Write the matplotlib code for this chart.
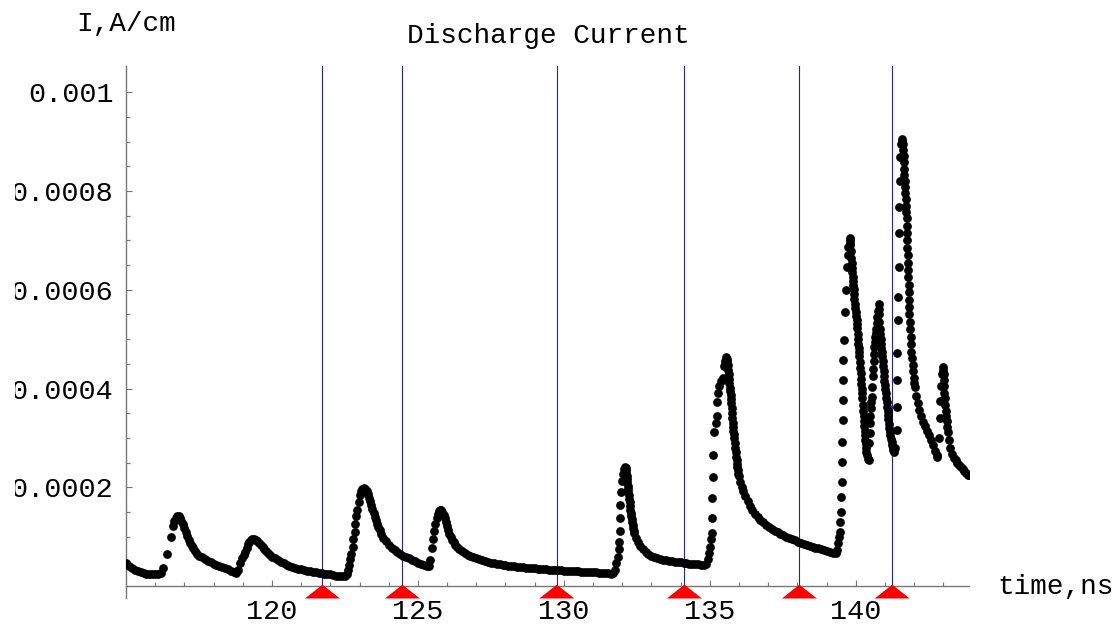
import numpy as np
import matplotlib
matplotlib.use("Agg")
import matplotlib.pyplot as plt
from matplotlib.patches import Polygon, Rectangle

# discharge current samples, (time in ns, current in 1e-4 A/cm)
trace_115_125 = [
    (115.0, 0.46), (115.1, 0.41), (115.2, 0.37), (115.3, 0.33), (115.4, 0.30),
    (115.5, 0.28), (115.6, 0.26), (115.7, 0.25), (115.8, 0.25), (115.9, 0.24),
    (116.0, 0.24), (116.1, 0.24), (116.2, 0.26),
    (116.26, 0.36), (116.40, 0.65), (116.55, 1.00),
    (116.62, 1.22), (116.66, 1.32), (116.70, 1.38), (116.75, 1.41), (116.80, 1.41),
    (116.85, 1.37), (116.90, 1.32), (116.95, 1.25), (117.00, 1.17), (117.05, 1.09),
    (117.10, 1.01), (117.15, 0.94), (117.20, 0.88), (117.25, 0.82), (117.30, 0.77),
    (117.37, 0.71), (117.43, 0.66), (117.50, 0.62), (117.60, 0.58), (117.70, 0.54),
    (117.80, 0.51), (117.90, 0.48), (118.00, 0.45), (118.10, 0.42), (118.20, 0.40),
    (118.30, 0.38), (118.40, 0.36), (118.50, 0.34), (118.60, 0.31), (118.70, 0.28),
    (118.78, 0.27),
    (118.84, 0.33), (118.91, 0.46), (118.98, 0.56), (119.04, 0.64), (119.09, 0.70),
    (119.13, 0.78), (119.17, 0.85), (119.22, 0.90), (119.27, 0.93), (119.32, 0.95),
    (119.38, 0.95), (119.44, 0.94), (119.50, 0.91), (119.56, 0.87), (119.62, 0.83),
    (119.68, 0.79), (119.74, 0.75), (119.80, 0.71), (119.87, 0.67), (119.94, 0.63),
    (120.00, 0.60), (120.10, 0.56), (120.20, 0.52), (120.30, 0.49), (120.40, 0.46),
    (120.50, 0.43), (120.60, 0.41), (120.70, 0.39), (120.80, 0.37), (120.90, 0.35),
    (121.00, 0.34), (121.10, 0.33), (121.20, 0.31), (121.30, 0.30), (121.40, 0.29),
    (121.50, 0.28), (121.60, 0.27), (121.70, 0.26), (121.80, 0.25), (121.90, 0.25),
    (122.00, 0.24), (122.10, 0.22), (122.20, 0.21), (122.30, 0.21), (122.40, 0.21),
    (122.50, 0.21), (122.56, 0.24),
    (122.60, 0.33), (122.63, 0.43), (122.68, 0.55), (122.72, 0.66), (122.76, 0.80),
    (122.79, 0.95), (122.83, 1.10), (122.86, 1.25), (122.89, 1.41), (122.93, 1.54),
    (122.97, 1.71), (123.01, 1.84), (123.05, 1.92), (123.09, 1.96), (123.14, 1.98),
    (123.19, 1.97), (123.24, 1.93), (123.28, 1.86), (123.32, 1.79), (123.36, 1.72),
    (123.40, 1.64), (123.44, 1.56), (123.48, 1.48), (123.52, 1.40), (123.56, 1.33),
    (123.61, 1.26), (123.65, 1.20), (123.70, 1.13), (123.75, 1.06), (123.82, 0.98),
    (123.90, 0.91), (124.00, 0.84), (124.10, 0.78), (124.20, 0.73), (124.30, 0.69),
    (124.40, 0.66), (124.50, 0.62), (124.60, 0.59), (124.70, 0.56), (124.80, 0.53),
    (124.90, 0.50), (125.00, 0.47),
]

trace_125_135 = [
    (125.10, 0.45), (125.20, 0.43), (125.30, 0.41), (125.38, 0.40),
    (125.43, 0.52), (125.48, 0.78), (125.52, 0.95), (125.56, 1.12), (125.60, 1.25),
    (125.64, 1.38), (125.68, 1.47), (125.72, 1.52), (125.76, 1.55), (125.80, 1.54),
    (125.84, 1.50), (125.88, 1.44), (125.92, 1.37), (125.96, 1.29), (126.00, 1.21),
    (126.04, 1.13), (126.08, 1.06), (126.12, 1.00), (126.17, 0.94), (126.22, 0.89),
    (126.28, 0.84), (126.35, 0.79), (126.42, 0.75), (126.50, 0.71), (126.60, 0.67),
    (126.70, 0.64), (126.80, 0.61), (126.90, 0.58), (127.00, 0.56), (127.10, 0.54),
    (127.20, 0.52), (127.30, 0.50), (127.40, 0.48), (127.50, 0.47), (127.60, 0.46),
    (127.70, 0.45), (127.80, 0.44), (127.90, 0.43), (128.00, 0.42), (128.10, 0.41),
    (128.20, 0.40), (128.30, 0.40), (128.40, 0.39), (128.50, 0.38), (128.60, 0.38),
    (128.70, 0.37), (128.80, 0.37), (128.90, 0.36), (129.00, 0.36), (129.10, 0.35),
    (129.20, 0.35), (129.30, 0.34), (129.40, 0.34), (129.50, 0.33), (129.60, 0.33),
    (129.70, 0.33), (129.80, 0.32), (129.90, 0.32), (130.00, 0.31), (130.10, 0.31),
    (130.20, 0.31), (130.30, 0.30), (130.40, 0.30), (130.50, 0.30), (130.60, 0.29),
    (130.70, 0.29), (130.80, 0.29), (130.90, 0.28), (131.00, 0.28), (131.10, 0.28),
    (131.20, 0.27), (131.30, 0.27), (131.40, 0.26), (131.50, 0.26), (131.60, 0.25),
    (131.70, 0.26), (131.76, 0.33),
    (131.80, 0.46), (131.84, 0.60), (131.88, 0.75), (131.90, 0.90), (131.91, 1.12),
    (131.92, 1.37), (131.93, 1.64), (131.95, 1.90), (131.98, 2.12), (132.02, 2.28),
    (132.06, 2.38), (132.10, 2.42), (132.115, 2.40), (132.13, 2.36), (132.145, 2.29),
    (132.16, 2.22), (132.17, 2.16), (132.18, 2.10), (132.19, 2.03), (132.20, 1.97),
    (132.21, 1.91), (132.22, 1.85), (132.235, 1.77), (132.25, 1.70), (132.265, 1.62),
    (132.28, 1.55), (132.295, 1.48), (132.31, 1.42), (132.325, 1.36), (132.34, 1.30),
    (132.36, 1.24), (132.38, 1.18), (132.40, 1.12), (132.42, 1.07), (132.47, 0.98),
    (132.53, 0.90), (132.60, 0.82), (132.70, 0.75), (132.80, 0.69), (132.90, 0.65),
    (133.00, 0.62), (133.10, 0.59), (133.20, 0.57), (133.30, 0.55), (133.40, 0.53),
    (133.50, 0.52), (133.60, 0.51), (133.70, 0.50), (133.80, 0.49), (133.90, 0.48),
    (134.00, 0.48), (134.10, 0.47), (134.20, 0.46), (134.30, 0.45), (134.40, 0.45),
    (134.50, 0.44), (134.60, 0.44), (134.70, 0.43), (134.80, 0.43), (134.88, 0.45),
]

trace_135_144 = [
    (134.93, 0.55), (134.97, 0.68), (135.00, 0.80), (135.04, 0.95), (135.07, 1.07),
    (135.08, 1.37), (135.09, 1.79), (135.10, 2.21), (135.12, 2.65), (135.14, 3.12),
    (135.20, 3.30), (135.24, 3.44), (135.25, 3.73), (135.27, 3.90), (135.33, 4.05),
    (135.40, 4.15), (135.44, 4.22), (135.48, 4.45), (135.52, 4.56), (135.57, 4.63),
    (135.585, 4.59), (135.60, 4.55), (135.615, 4.47), (135.63, 4.38), (135.645, 4.29),
    (135.66, 4.20), (135.675, 4.11), (135.69, 4.02), (135.705, 3.95), (135.72, 3.87),
    (135.73, 3.78), (135.74, 3.70), (135.75, 3.60), (135.76, 3.50), (135.775, 3.40),
    (135.79, 3.30), (135.80, 3.22), (135.81, 3.15), (135.825, 3.07), (135.84, 3.00),
    (135.855, 2.90), (135.87, 2.80), (135.885, 2.71), (135.90, 2.62), (135.915, 2.55),
    (135.93, 2.47), (135.945, 2.41), (135.96, 2.35), (135.98, 2.28), (136.00, 2.22),
    (136.05, 2.10), (136.10, 2.00), (136.15, 1.92), (136.22, 1.82), (136.30, 1.72),
    (136.38, 1.62), (136.46, 1.54), (136.55, 1.46), (136.64, 1.40), (136.72, 1.34),
    (136.82, 1.29), (136.92, 1.24), (137.02, 1.20), (137.12, 1.16), (137.22, 1.12),
    (137.32, 1.09), (137.42, 1.06), (137.52, 1.03), (137.62, 1.00), (137.72, 0.97),
    (137.82, 0.95), (137.92, 0.93), (138.02, 0.90), (138.12, 0.88), (138.22, 0.86),
    (138.32, 0.84), (138.42, 0.82), (138.52, 0.80), (138.62, 0.78), (138.72, 0.77),
    (138.82, 0.75), (138.92, 0.73), (139.02, 0.71), (139.12, 0.69), (139.22, 0.68),
    (139.32, 0.67), (139.37, 0.74),
    (139.40, 0.87), (139.44, 1.00), (139.46, 1.10), (139.47, 1.30), (139.48, 1.51),
    (139.50, 1.81), (139.52, 2.11), (139.53, 2.52), (139.54, 2.92), (139.55, 3.36),
    (139.56, 3.77), (139.57, 4.17), (139.58, 4.57), (139.60, 4.98), (139.62, 5.55),
    (139.65, 5.99), (139.69, 6.46), (139.72, 6.70), (139.75, 6.87), (139.79, 7.04),
    (139.80, 7.00), (139.81, 6.95), (139.82, 6.90), (139.835, 6.78), (139.85, 6.65),
    (139.86, 6.55), (139.87, 6.45), (139.885, 6.35), (139.90, 6.25), (139.91, 6.18),
    (139.92, 6.10), (139.93, 6.01), (139.94, 5.92), (139.955, 5.82), (139.97, 5.72),
    (139.985, 5.63), (140.00, 5.55), (140.015, 5.46), (140.03, 5.38), (140.04, 5.30),
    (140.05, 5.22), (140.065, 5.11), (140.08, 5.00), (140.09, 4.91), (140.10, 4.82),
    (140.11, 4.73), (140.12, 4.65), (140.135, 4.53), (140.15, 4.42), (140.165, 4.31),
    (140.18, 4.20), (140.195, 4.10), (140.21, 4.00), (140.22, 3.90), (140.23, 3.80),
    (140.245, 3.67), (140.26, 3.55), (140.27, 3.45), (140.28, 3.35), (140.29, 3.25),
    (140.30, 3.15), (140.31, 3.05), (140.32, 2.96), (140.335, 2.88), (140.35, 2.80),
    (140.365, 2.72), (140.38, 2.65), (140.41, 2.57), (140.44, 2.56),
    (140.47, 2.90), (140.48, 3.10), (140.49, 3.30), (140.505, 3.45), (140.52, 3.60),
    (140.535, 3.72), (140.55, 3.83), (140.565, 4.04), (140.58, 4.25), (140.595, 4.40),
    (140.61, 4.55), (140.625, 4.70), (140.64, 4.85), (140.655, 4.95), (140.67, 5.05),
    (140.685, 5.12), (140.70, 5.20), (140.72, 5.32), (140.74, 5.45), (140.76, 5.58),
    (140.78, 5.72), (140.79, 5.61), (140.80, 5.50), (140.81, 5.35), (140.82, 5.20),
    (140.835, 5.10), (140.85, 5.00), (140.865, 4.91), (140.88, 4.82), (140.895, 4.73),
    (140.91, 4.65), (140.925, 4.55), (140.94, 4.45), (140.955, 4.35), (140.97, 4.25),
    (140.985, 4.16), (141.00, 4.08), (141.015, 3.99), (141.03, 3.90), (141.045, 3.81),
    (141.06, 3.72), (141.075, 3.63), (141.09, 3.55), (141.105, 3.46), (141.12, 3.38),
    (141.135, 3.29), (141.15, 3.20), (141.17, 3.12), (141.19, 3.05), (141.21, 2.98),
    (141.23, 2.92), (141.25, 2.86), (141.27, 2.80), (141.29, 2.76), (141.31, 2.72),
    (141.35, 2.80),
    (141.40, 3.16), (141.41, 3.63), (141.42, 4.17), (141.43, 4.71), (141.44, 5.38),
    (141.45, 5.85), (141.47, 6.46), (141.48, 7.14), (141.49, 7.67), (141.51, 8.21),
    (141.53, 8.69), (141.55, 8.95), (141.58, 9.06), (141.595, 9.01), (141.61, 8.95),
    (141.625, 8.83), (141.64, 8.70), (141.65, 8.58), (141.66, 8.45), (141.67, 8.33),
    (141.68, 8.20), (141.69, 8.08), (141.70, 7.95), (141.71, 7.83), (141.72, 7.70),
    (141.73, 7.58), (141.74, 7.45), (141.75, 7.30), (141.76, 7.15), (141.765, 7.00),
    (141.77, 6.85), (141.78, 6.70), (141.79, 6.55), (141.795, 6.40), (141.80, 6.25),
    (141.81, 6.10), (141.82, 5.95), (141.825, 5.80), (141.83, 5.65), (141.84, 5.50),
    (141.85, 5.35), (141.865, 5.20), (141.88, 5.05), (141.895, 4.90), (141.91, 4.75),
    (141.93, 4.61), (141.95, 4.48), (141.97, 4.35), (141.99, 4.22), (142.01, 4.12),
    (142.03, 4.03), (142.08, 3.85), (142.13, 3.70), (142.18, 3.56), (142.24, 3.44),
    (142.30, 3.33), (142.36, 3.24), (142.43, 3.15), (142.50, 3.06), (142.57, 2.96),
    (142.64, 2.86), (142.71, 2.74), (142.77, 2.62), (142.80, 2.65),
    (142.84, 3.00), (142.87, 3.40), (142.90, 3.75), (142.93, 4.05), (142.96, 4.30),
    (142.99, 4.44), (143.00, 4.37), (143.01, 4.30), (143.02, 4.18), (143.03, 4.05),
    (143.04, 3.92), (143.05, 3.80), (143.065, 3.67), (143.08, 3.55), (143.095, 3.45),
    (143.11, 3.35), (143.13, 3.23), (143.15, 3.12), (143.19, 2.95), (143.24, 2.80),
    (143.30, 2.68), (143.36, 2.60), (143.42, 2.55), (143.48, 2.50), (143.54, 2.46),
    (143.60, 2.42), (143.66, 2.38), (143.72, 2.34), (143.78, 2.30), (143.84, 2.26),
    (143.88, 2.24),
]

# times of the vertical markers (ns)
marker_times = [121.73, 124.47, 129.76, 134.13, 138.07, 141.25]

xticks_major = [120, 125, 130, 135, 140]
yticks_major = [0.0002, 0.0004, 0.0006, 0.0008, 0.001]
ytick_labels = ["0.0002", "0.0004", "0.0006", "0.0008", "0.001"]

samples = trace_115_125 + trace_125_135 + trace_135_144
t = np.array([s[0] for s in samples])
cur = np.array([s[1] for s in samples]) * 1e-4

W, H = 1118, 628
fig = plt.figure(figsize=(W / 100, H / 100), dpi=100)
ax = fig.add_axes([126 / W, 30 / H, 843 / W, 532 / H])

ymin, ymax = -0.000024, 0.001053
ax.set_xlim(115.0, 143.88)
ax.set_ylim(ymin, ymax)

# marker lines and red triangles
for tm in marker_times:
    ax.plot([tm, tm], [0, ymax], color="#24249a", lw=0.8, zorder=1)
    tri = Polygon([[tm - 0.6, -0.000025], [tm + 0.6, -0.000025], [tm, 0.000003]],
                  closed=True, color="#ff0000", lw=0, clip_on=False, zorder=4)
    ax.add_patch(tri)

ax.plot(t, cur, "o", color="black", ms=6.3, mew=0, zorder=3)

# mathematica style axes
for side in ["top", "right"]:
    ax.spines[side].set_visible(False)
ax.spines["bottom"].set_position(("data", 0))
for side in ["left", "bottom"]:
    ax.spines[side].set_color("#777777")
    ax.spines[side].set_linewidth(1.0)

ax.set_xticks(xticks_major)
ax.set_xticks(np.arange(116, 144, 1), minor=True)
ax.set_yticks(yticks_major)
ax.set_yticklabels(ytick_labels)
ax.set_yticks(np.arange(0.00005, 0.00105, 0.00005), minor=True)
ax.tick_params(which="both", direction="in", color="#777777", width=0.8,
               labelsize=20.5, labelcolor="black")
ax.tick_params(which="major", length=4)
ax.tick_params(which="minor", length=2.8)
ax.tick_params(axis="x", pad=9)
ax.tick_params(axis="y", pad=9)

mono = "Liberation Mono"
for lbl in ax.get_xticklabels() + ax.get_yticklabels():
    lbl.set_family(mono)

fig.text(126 / W, 1 - 31.5 / H, "I,A/cm", family=mono, fontsize=20,
         ha="center", va="baseline")
fig.text(997 / W, 1 - 594 / H, "time,ns", family=mono, fontsize=20,
         ha="left", va="baseline")
fig.text(548 / W, 1 - 43 / H, "Discharge Current", family=mono, fontsize=20,
         ha="center", va="baseline")

# the left edge of the long y labels is cut off in the original
fig.patches.append(Rectangle((0, 0), 15 / W, 1, transform=fig.transFigure,
                             facecolor="white", edgecolor="none", zorder=10))

fig.savefig("out.png", dpi=100)
